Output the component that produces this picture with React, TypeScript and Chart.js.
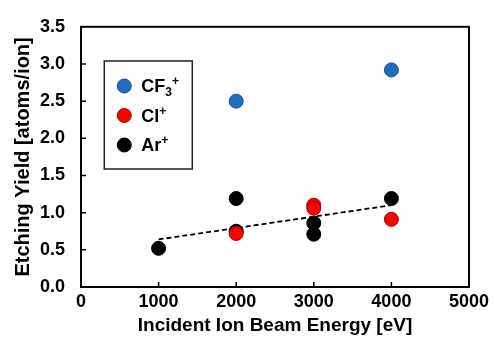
import React, { useEffect, useRef } from "react";
import { Chart, registerables } from "chart.js";

Chart.register(...registerables);

const cf3Energy = [2000, 4000];
const cf3Yield = [2.5, 2.92];
const clEnergy = [2000, 3000, 3000, 4000];
const clYield = [0.72, 1.1, 1.06, 0.91];
const arEnergy = [1000, 2000, 2000, 3000, 3000, 4000];
const arYield = [0.52, 1.19, 0.75, 0.86, 0.71, 1.19];
const trendEnergy = [1000, 4000];
const trendYield = [0.64, 1.1];

const xTicks = [0, 1000, 2000, 3000, 4000, 5000];
const yTicks = [0, 0.5, 1.0, 1.5, 2.0, 2.5, 3.0, 3.5];

const FONT = "'Liberation Sans', Arial, sans-serif";
const BLUE = "#1f6fc0";
const RED = "#ff0000";
const BLACK = "#000000";

const toPts = (xs: number[], ys: number[]) => xs.map((x, i) => ({ x, y: ys[i] }));

const framePlugin = {
  id: "frame",
  afterDraw(chart: any) {
    const { ctx, chartArea } = chart;
    const { left, right, top, bottom } = chartArea;
    const xs = chart.scales.x;
    const ys = chart.scales.y;
    ctx.save();
    ctx.strokeStyle = "#000";
    ctx.lineWidth = 2;
    ctx.strokeRect(left, top, right - left, bottom - top);
    ctx.lineWidth = 1.5;
    ctx.beginPath();
    xTicks.forEach((v) => {
      const px = xs.getPixelForValue(v);
      ctx.moveTo(px, bottom);
      ctx.lineTo(px, bottom - 5);
    });
    yTicks.forEach((v) => {
      const py = ys.getPixelForValue(v);
      ctx.moveTo(left, py);
      ctx.lineTo(left + 5, py);
    });
    ctx.stroke();

    // legend box
    const lx = xs.getPixelForValue(300);
    const ly = ys.getPixelForValue(3.04);
    const lw = 88;
    const lh = 108;
    ctx.fillStyle = "#fff";
    ctx.fillRect(lx, ly, lw, lh);
    ctx.strokeStyle = "#222";
    ctx.lineWidth = 1.5;
    ctx.strokeRect(lx, ly, lw, lh);

    const rows = [
      { fill: BLUE, stroke: "#1a4f8a", parts: [["CF", 0], ["3", 1], ["+", 2]] },
      { fill: RED, stroke: "#a00000", parts: [["Cl", 0], ["+", 2]] },
      { fill: BLACK, stroke: "#000", parts: [["Ar", 0], ["+", 2]] },
    ];
    rows.forEach((r, i) => {
      const cy = ly + 25 + i * 29.5;
      const cx = lx + 20;
      ctx.beginPath();
      ctx.arc(cx, cy, 7, 0, Math.PI * 2);
      ctx.fillStyle = r.fill;
      ctx.fill();
      ctx.lineWidth = 1;
      ctx.strokeStyle = r.stroke;
      ctx.stroke();
      let tx = lx + 37;
      const base = cy + 6.5;
      ctx.fillStyle = "#000";
      ctx.textBaseline = "alphabetic";
      ctx.textAlign = "left";
      (r.parts as any[]).forEach(([t, kind]) => {
        if (kind === 0) {
          ctx.font = `bold 18px ${FONT}`;
          ctx.fillText(t, tx, base);
        } else if (kind === 1) {
          ctx.font = `bold 12px ${FONT}`;
          ctx.fillText(t, tx, base + 4);
        } else {
          ctx.font = `bold 12px ${FONT}`;
          ctx.fillText(t, tx, base - 7);
        }
        tx += ctx.measureText(t).width;
      });
    });
    ctx.restore();
  },
};

export default function App() {
  const ref = useRef<HTMLCanvasElement | null>(null);
  useEffect(() => {
    if (!ref.current) return;
    const chart = new Chart(ref.current, {
      type: "scatter",
      data: {
        datasets: [
          {
            label: "CF3+",
            data: toPts(cf3Energy, cf3Yield),
            backgroundColor: BLUE,
            borderColor: "#1a4f8a",
            borderWidth: 1,
            pointRadius: 7,
          },
          {
            label: "Cl+",
            data: toPts(clEnergy, clYield),
            backgroundColor: RED,
            borderColor: "#a00000",
            borderWidth: 1,
            pointRadius: 7,
          },
          {
            label: "Ar+",
            data: toPts(arEnergy, arYield),
            backgroundColor: BLACK,
            borderColor: BLACK,
            borderWidth: 1,
            pointRadius: 7,
          },
          {
            type: "line",
            label: "trend",
            data: toPts(trendEnergy, trendYield),
            borderColor: "#000",
            borderWidth: 1.8,
            borderDash: [5, 3],
            pointRadius: 0,
            fill: false,
          } as any,
        ],
      },
      options: {
        animation: false,
        responsive: true,
        maintainAspectRatio: false,
        layout: { padding: { top: 22, right: 20, left: 0, bottom: 0 } },
        plugins: { legend: { display: false }, tooltip: { enabled: false } },
        scales: {
          x: {
            type: "linear",
            min: 0,
            max: 5000,
            afterFit: (s: any) => {
              s.height = 59;
            },
            afterBuildTicks: (s: any) => {
              s.ticks = xTicks.map((v) => ({ value: v }));
            },
            grid: { display: false, drawTicks: false },
            border: { display: false },
            ticks: {
              padding: 4,
              color: "#000",
              font: { family: FONT, size: 18, weight: "bold" },
              maxRotation: 0,
              callback: (v: any) => String(v),
            },
            title: {
              display: true,
              text: "Incident Ion Beam Energy [eV]",
              color: "#000",
              font: { family: FONT, size: 19, weight: "bold" },
              padding: { top: 0, bottom: 9 },
            },
          },
          y: {
            type: "linear",
            min: 0,
            max: 3.5,
            afterFit: (s: any) => {
              s.width = 81;
            },
            afterBuildTicks: (s: any) => {
              s.ticks = yTicks.map((v) => ({ value: v }));
            },
            grid: { display: false, drawTicks: false },
            border: { display: false },
            ticks: {
              padding: 16,
              color: "#000",
              font: { family: FONT, size: 18, weight: "bold" },
              callback: (v: any) => Number(v).toFixed(1),
            },
            title: {
              display: true,
              text: "Etching Yield [atoms/ion]",
              color: "#000",
              font: { family: FONT, size: 20, weight: "bold" },
              padding: { top: 11, bottom: 0 },
            },
          },
        },
      },
      plugins: [framePlugin],
    });
    return () => chart.destroy();
  }, []);
  return (
    <div style={{ position: "absolute", left: 0, top: 0, width: 493, height: 346, background: "#fff" }}>
      <canvas ref={ref} />
    </div>
  );
}
